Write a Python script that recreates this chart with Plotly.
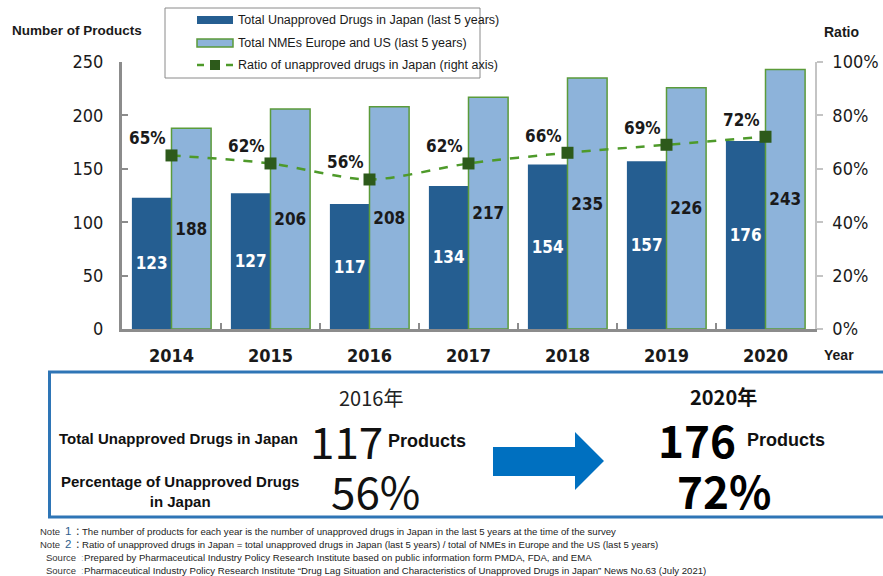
import plotly.graph_objects as go

W, H = 883, 576

# ---- data ----
years = ["2014", "2015", "2016", "2017", "2018", "2019", "2020"]
unapproved_japan = [123, 127, 117, 134, 154, 157, 176]
nmes_eu_us = [188, 206, 208, 217, 235, 226, 243]
ratio_pct = [65, 62, 56, 62, 66, 69, 72]

left_ticks = [0, 50, 100, 150, 200, 250]
right_ticks = [0, 20, 40, 60, 80, 100]

legend_labels = [
    "Total Unapproved Drugs in Japan (last 5 years)",
    "Total NMEs Europe and US (last 5 years)",
    "Ratio of unapproved drugs in Japan (right axis)",
]

notes = [
    ("Note", "1", "The number of products for each year is the number of unapproved drugs in Japan in the last 5 years at the time of the survey"),
    ("Note", "2", "Ratio of unapproved drugs in Japan = total unapproved drugs in Japan (last 5 years) / total of NMEs in Europe and the US (last 5 years)"),
    ("Source", "", "Prepared by Pharmaceutical Industry Policy Research Institute based on public information form PMDA, FDA, and EMA"),
    ("Source", "", "Pharmaceutical Industry Policy Research Institute \u201cDrug Lag Situation and Characteristics of Unapproved Drugs in Japan\u201d News No.63 (July 2021)"),
]

# ---- styling ----
DARK = "#255E91"
LIGHT = "#8DB3DA"
GREEN_EDGE = "#5B9B3A"
LINE_GREEN = "#4E9A2A"
MARK_GREEN = "#2D5A1B"
AXIS_GREY = "#8C8C8C"
TEXT = "#1A1A1A"
TICK_FONT = "DejaVu Sans Condensed, DejaVu Sans, sans-serif"
SANS = "Liberation Sans, Arial, sans-serif"
CJK = "Noto Sans CJK JP, sans-serif"


def px(x):
    return x / W


def py(y):
    return 1 - y / H


fig = go.Figure()

fig.add_trace(go.Bar(
    x=years, y=unapproved_japan, name=legend_labels[0],
    marker=dict(color=DARK, line=dict(width=0)),
    text=[str(v) for v in unapproved_japan], textposition="inside",
    insidetextanchor="middle", constraintext="none",
    textfont=dict(family=TICK_FONT, size=17, color="white", weight="bold"),
))
fig.add_trace(go.Bar(
    x=years, y=nmes_eu_us, name=legend_labels[1],
    marker=dict(color=LIGHT, line=dict(color=GREEN_EDGE, width=1.5)),
    text=[str(v) for v in nmes_eu_us], textposition="inside",
    insidetextanchor="middle", constraintext="none",
    textfont=dict(family=TICK_FONT, size=17, color=TEXT, weight="bold"),
))
fig.add_trace(go.Scatter(
    x=years, y=ratio_pct, name=legend_labels[2], yaxis="y2",
    mode="lines+markers",
    line=dict(color=LINE_GREEN, width=2.5, dash="dash", shape="spline", smoothing=0.8),
    marker=dict(symbol="square", size=12, color=MARK_GREEN),
))

# percentage labels above-left of each marker (category index on the x axis)
for i, r in enumerate(ratio_pct):
    fig.add_annotation(
        x=i, y=r, xref="x", yref="y2", text=f"{r}%", showarrow=False,
        xshift=-24, yshift=17,
        font=dict(family=TICK_FONT, size=17, color=TEXT, weight="bold"),
    )

shapes = []
annotations = []

# axis titles
annotations += [
    dict(x=px(10), y=py(31), text="Number of Products", xanchor="left", yanchor="middle",
         font=dict(family=SANS, size=13.5, color=TEXT, weight="bold")),
    dict(x=px(822), y=py(32), text="Ratio", xanchor="left", yanchor="middle",
         font=dict(family=SANS, size=14, color=TEXT, weight="bold")),
    dict(x=px(822), y=py(355), text="Year", xanchor="left", yanchor="middle",
         font=dict(family=SANS, size=14, color=TEXT, weight="bold")),
]

# legend box
shapes.append(dict(type="rect", xref="paper", yref="paper",
                   x0=px(165), x1=px(480), y0=py(8), y1=py(78),
                   line=dict(color="#8A8A8A", width=1), fillcolor="white", layer="below"))
leg_y = [20, 43, 65]
shapes.append(dict(type="rect", xref="paper", yref="paper",
                   x0=px(197), x1=px(233), y0=py(leg_y[0] - 4), y1=py(leg_y[0] + 4),
                   line=dict(width=0), fillcolor=DARK))
shapes.append(dict(type="rect", xref="paper", yref="paper",
                   x0=px(197), x1=px(233), y0=py(leg_y[1] - 4), y1=py(leg_y[1] + 4),
                   line=dict(color=GREEN_EDGE, width=1.5), fillcolor=LIGHT))
for a, b in [(197, 204), (226, 233)]:
    shapes.append(dict(type="line", xref="paper", yref="paper",
                       x0=px(a), x1=px(b), y0=py(leg_y[2]), y1=py(leg_y[2]),
                       line=dict(color=LINE_GREEN, width=2.5)))
shapes.append(dict(type="rect", xref="paper", yref="paper",
                   x0=px(210), x1=px(220), y0=py(leg_y[2] - 5), y1=py(leg_y[2] + 5),
                   line=dict(width=0), fillcolor=MARK_GREEN))
for lbl, yy in zip(legend_labels, leg_y):
    annotations.append(dict(x=px(236), y=py(yy), text=lbl, xanchor="left", yanchor="middle",
                            font=dict(family=SANS, size=12.5, color=TEXT)))

# summary box
shapes.append(dict(type="rect", xref="paper", yref="paper",
                   x0=px(49.5), x1=px(895), y0=py(372), y1=py(517),
                   line=dict(color="#2E75B6", width=3), fillcolor="rgba(0,0,0,0)"))
arrow = [(493, 447), (575, 447), (575, 432), (604, 461), (575, 490), (575, 476), (493, 476)]
path = "M " + " L ".join(f"{px(x):.5f},{py(y):.5f}" for x, y in arrow) + " Z"
shapes.append(dict(type="path", xref="paper", yref="paper", path=path,
                   fillcolor="#0070C0", line=dict(width=0)))

before_year, after_year = "2016", "2020"
i0, i1 = years.index(before_year), years.index(after_year)

annotations += [
    dict(x=px(371), y=py(397), text=f"{before_year}年", xanchor="center", yanchor="middle",
         font=dict(family=CJK, size=20, color="#222")),
    dict(x=px(723), y=py(396), text=f"{after_year}年", xanchor="center", yanchor="middle",
         font=dict(family=CJK, size=20, color="#111", weight="bold")),
    dict(x=px(57), y=py(438), text="Total Unapproved Drugs in Japan", xanchor="left", yanchor="middle",
         font=dict(family=SANS, size=15, color="#111", weight="bold")),
    dict(x=px(180), y=py(491), text="Percentage of Unapproved Drugs<br>in Japan", xanchor="center",
         yanchor="middle", align="center",
         font=dict(family=SANS, size=15, color="#111", weight="bold")),
    dict(x=px(385), y=py(440), text=str(unapproved_japan[i0]), xanchor="right", yanchor="middle",
         font=dict(family=CJK, size=44, color="#111")),
    dict(x=px(386), y=py(441), text="Products", xanchor="left", yanchor="middle",
         font=dict(family=SANS, size=18, color="#111", weight="bold")),
    dict(x=px(375), y=py(490), text=f"{ratio_pct[i0]}%", xanchor="center", yanchor="middle",
         font=dict(family=CJK, size=44, color="#111")),
    dict(x=px(738), y=py(439), text=str(unapproved_japan[i1]), xanchor="right", yanchor="middle",
         font=dict(family=CJK, size=44, color="#000", weight="bold")),
    dict(x=px(745), y=py(440), text="Products", xanchor="left", yanchor="middle",
         font=dict(family=SANS, size=18, color="#111", weight="bold")),
    dict(x=px(724), y=py(490), text=f"{ratio_pct[i1]}%", xanchor="center", yanchor="middle",
         font=dict(family=CJK, size=44, color="#000", weight="bold")),
]

# footnotes
note_y = [531, 544, 557, 570]
for (head, num, body), yy in zip(notes, note_y):
    if num:
        annotations.append(dict(x=px(62), y=py(yy), text=head, xanchor="right", yanchor="middle",
                                font=dict(family=SANS, size=9.5, color="#333")))
        annotations.append(dict(x=px(63), y=py(yy - 0.5), text=num, xanchor="left", yanchor="middle",
                                font=dict(family=SANS, size=11.5, color="#2E5E8C")))
        annotations.append(dict(x=px(71), y=py(yy), text="：", xanchor="left", yanchor="middle",
                                font=dict(family=CJK, size=9.5, color="#333")))
        annotations.append(dict(x=px(80), y=py(yy), text=body, xanchor="left", yanchor="middle",
                                font=dict(family=SANS, size=9.6, color="#222")))
    else:
        annotations.append(dict(x=px(78), y=py(yy), text=head, xanchor="right", yanchor="middle",
                                font=dict(family=SANS, size=9.5, color="#333")))
        annotations.append(dict(x=px(79), y=py(yy), text=":", xanchor="left", yanchor="middle",
                                font=dict(family=SANS, size=9.5, color="#9BB7D4")))
        annotations.append(dict(x=px(82), y=py(yy), text=body, xanchor="left", yanchor="middle",
                                font=dict(family=SANS, size=9.6, color="#222")))

for a in annotations:
    a.setdefault("xref", "paper")
    a.setdefault("yref", "paper")
    a.setdefault("showarrow", False)
    fig.add_annotation(**a)

fig.update_layout(
    width=W, height=H,
    margin=dict(l=0, r=0, t=0, b=0, autoexpand=False),
    paper_bgcolor="white", plot_bgcolor="white",
    showlegend=False,
    barmode="group", bargap=0.2, bargroupgap=0,
    shapes=shapes,
    xaxis=dict(
        domain=[px(122), px(815)], type="category", range=[-0.5, len(years) - 0.5],
        showline=True, linecolor=AXIS_GREY, linewidth=3,
        ticks="inside", tickson="boundaries", ticklen=6, tickwidth=2, tickcolor=AXIS_GREY,
        tickfont=dict(family=TICK_FONT, size=18, color=TEXT, weight="bold"),
        tickangle=0, ticklabelstandoff=8, showgrid=False, zeroline=False, automargin=False,
    ),
    yaxis=dict(
        domain=[py(329), py(62)], range=[0, 250], tickvals=left_ticks,
        showline=True, linecolor=AXIS_GREY, linewidth=3,
        ticks="inside", ticklen=6, tickwidth=2, tickcolor=AXIS_GREY,
        tickfont=dict(family=TICK_FONT, size=18, color=TEXT),
        ticklabelstandoff=12, showgrid=False, zeroline=False, automargin=False,
    ),
    yaxis2=dict(
        overlaying="y", side="right", anchor="x", range=[0, 100], tickvals=right_ticks,
        ticktext=[f"{t}%" for t in right_ticks],
        showline=True, linecolor="#C4C4C4", linewidth=1.5,
        ticks="outside", ticklen=6, tickwidth=1.5, tickcolor="#C4C4C4",
        tickfont=dict(family=TICK_FONT, size=18, color=TEXT),
        ticklabelstandoff=6, showgrid=False, zeroline=False, automargin=False,
    ),
)

fig.write_html("out.html")
